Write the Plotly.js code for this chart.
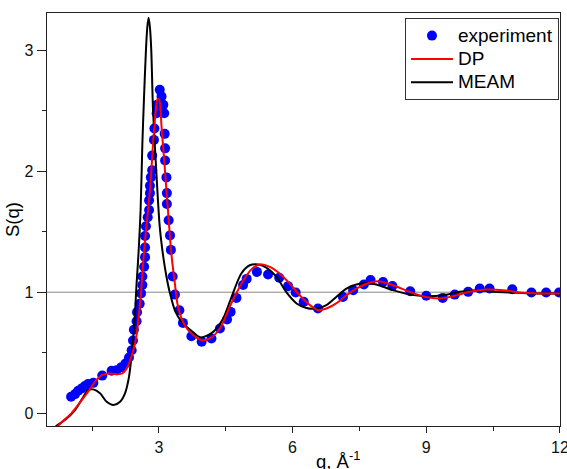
<!DOCTYPE html>
<html>
<head>
<meta charset="utf-8">
<script src="https://cdn.plot.ly/plotly-3.0.1.min.js"></script>
<style>html,body{margin:0;padding:0;background:#fff;}#chart{width:567px;height:469px;}</style>
</head>
<body>
<div id="chart"></div>
<script>
// Experimental S(q)
const expQ = [1.03,1.12,1.19,1.27,1.34,1.41,1.53,1.73,1.94,2.05,2.16,2.25,2.33,2.39,2.42,2.44,2.50,2.51,2.57,2.60,2.63,2.63,2.67,2.69,2.69,2.69,2.71,2.75,2.78,2.78,2.80,2.80,2.82,2.85,2.85,2.89,2.90,2.95,2.96,3.02,3.06,3.10,3.12,3.13,3.14,3.14,3.17,3.18,3.18,3.22,3.25,3.27,3.31,3.36,3.46,3.54,3.73,3.96,4.18,4.37,4.53,4.61,4.74,4.89,4.97,5.20,5.45,5.70,5.90,6.07,6.25,6.57,7.13,7.36,7.60,7.75,8.03,8.24,8.64,9.00,9.37,9.64,9.94,10.20,10.42,10.93,11.36,11.69,11.98];
const expS = [0.135,0.157,0.184,0.204,0.223,0.24,0.25,0.31,0.35,0.355,0.38,0.41,0.46,0.52,0.60,0.69,0.76,0.835,0.905,0.99,1.06,1.13,1.21,1.29,1.37,1.465,1.545,1.62,1.68,1.76,1.82,1.88,1.95,2.01,2.13,2.26,2.355,2.48,2.55,2.675,2.62,2.55,2.48,2.31,2.19,2.09,1.95,1.82,1.73,1.595,1.47,1.35,1.13,0.98,0.85,0.746,0.636,0.59,0.617,0.70,0.774,0.837,0.953,1.06,1.11,1.168,1.146,1.12,1.05,0.997,0.92,0.865,0.96,1.017,1.064,1.10,1.085,1.052,1.008,0.97,0.953,0.98,1.003,1.03,1.03,1.025,0.998,0.998,0.998];

// DP model
const dpQ = [0.5,0.74,1.04,1.27,1.45,1.57,1.72,1.86,2.05,2.18,2.30,2.40,2.48,2.55,2.60,2.64,2.70,2.80,2.87,2.93,2.97,3.01,3.06,3.13,3.21,3.28,3.36,3.43,3.58,3.77,3.96,4.14,4.37,4.59,4.75,4.97,5.11,5.26,5.49,5.71,5.94,6.16,6.39,6.57,6.76,6.98,7.21,7.43,7.66,7.92,8.25,8.63,9.00,9.30,9.60,9.97,10.35,10.72,11.09,11.54,12.0];
const dpS = [-0.27,-0.107,0.0,0.107,0.196,0.26,0.314,0.328,0.322,0.328,0.383,0.49,0.60,0.80,1.0,1.21,1.47,1.84,2.23,2.50,2.60,2.59,2.37,2.04,1.65,1.32,1.07,0.88,0.727,0.645,0.603,0.617,0.70,0.88,1.0,1.14,1.20,1.23,1.21,1.155,1.07,0.975,0.893,0.851,0.865,0.907,0.975,1.03,1.07,1.09,1.058,1.003,0.96,0.948,0.967,1.003,1.022,1.017,0.998,0.99,0.99];

// MEAM model
const meamQ = [0.5,0.70,0.89,1.12,1.27,1.41,1.53,1.68,1.83,1.98,2.13,2.24,2.33,2.40,2.46,2.50,2.54,2.59,2.63,2.67,2.71,2.74,2.77,2.80,2.83,2.87,2.95,3.02,3.10,3.17,3.25,3.36,3.51,3.73,3.94,4.22,4.44,4.63,4.85,5.04,5.23,5.41,5.64,5.86,6.09,6.31,6.54,6.76,6.98,7.21,7.43,7.66,7.88,8.25,8.63,9.0,9.37,9.75,10.12,10.50,10.87,11.39,12.0];
const meamS = [-0.22,-0.107,-0.058,0.025,0.113,0.19,0.196,0.163,0.093,0.066,0.093,0.163,0.30,0.52,0.80,1.07,1.30,1.68,2.23,2.64,3.0,3.19,3.27,3.19,3.0,2.50,1.95,1.54,1.29,1.13,0.99,0.85,0.755,0.68,0.625,0.672,0.78,0.96,1.155,1.223,1.229,1.204,1.126,1.0,0.907,0.87,0.865,0.893,0.96,1.03,1.064,1.077,1.064,1.017,0.98,0.967,0.975,1.003,1.017,1.003,0.998,0.99,0.99];

const seriesNames = ['experiment', 'DP', 'MEAM'];
const xTicks = [3,6,9,12];
const yTicks = [0,1,2,3];

const FONT = 'Liberation Sans, Arial, sans-serif';
const big = s => '<span style="font-size:19px">' + s + '</span>';

const traces = [
  {x: expQ, y: expS, type: 'scatter', mode: 'markers', name: big(seriesNames[0]), legendrank: 1,
   marker: {color: '#0000ff', size: 10, line: {width: 0}}},
  {x: meamQ, y: meamS, type: 'scatter', mode: 'lines', name: big(seriesNames[2]), legendrank: 3,
   line: {color: '#000000', width: 2, shape: 'spline', smoothing: 0.8}},
  {x: dpQ, y: dpS, type: 'scatter', mode: 'lines', name: big(seriesNames[1]), legendrank: 2,
   line: {color: '#ff0000', width: 2, shape: 'spline', smoothing: 0.8}}
];

const axisCommon = {
  showline: true, mirror: true, linecolor: '#222', linewidth: 1.3,
  showgrid: false, zeroline: false, ticks: 'outside', tickcolor: '#222',
  ticklabeloverflow: 'allow',
  tickfont: {family: FONT, size: 16, color: '#111'}
};

const layout = {
  width: 567, height: 469,
  margin: {l: 47, r: 7, t: 13, b: 43, pad: 0},
  paper_bgcolor: '#ffffff', plot_bgcolor: '#ffffff',
  font: {family: FONT, color: '#000'},
  showlegend: true,
  legend: {x: 0.998, y: 0.988, xanchor: 'right', yanchor: 'top',
    bgcolor: '#ffffff', bordercolor: '#333', borderwidth: 1,
    font: {family: FONT, size: 15.6, color: '#000'},
    itemwidth: 42, tracegroupgap: 0, traceorder: 'normal'},
  xaxis: Object.assign({}, axisCommon, {
    range: [0.49, 12.001], tickmode: 'array', tickvals: xTicks, ticktext: xTicks.map(String),
    ticklen: 6,
    minor: {ticks: 'outside', dtick: 1.5, tick0: 0, ticklen: 4, tickcolor: '#222', showgrid: false}
  }),
  yaxis: Object.assign({}, axisCommon, {
    range: [-0.107, 3.31], tickmode: 'array', tickvals: yTicks, ticktext: yTicks.map(String),
    ticklen: 9,
    minor: {ticks: 'outside', dtick: 0.5, tick0: 0, ticklen: 4, tickcolor: '#222', showgrid: false},
    title: {text: 'S(q)', font: {family: FONT, size: 18.5, color: '#000'}, standoff: 0}
  }),
  shapes: [
    {type: 'line', xref: 'paper', x0: 0, x1: 1, yref: 'y', y0: 1, y1: 1,
     line: {color: '#888888', width: 1}, layer: 'below'}
  ],
  annotations: [
    {text: 'q, Å<sup>-1</sup>', xref: 'paper', yref: 'paper', x: 0.568, y: -0.083,
     xanchor: 'center', yanchor: 'middle', showarrow: false,
     font: {family: FONT, size: 18.5, color: '#000'}}
  ]
};

Plotly.newPlot('chart', traces, layout, {displayModeBar: false, staticPlot: true});
</script>
</body>
</html>
